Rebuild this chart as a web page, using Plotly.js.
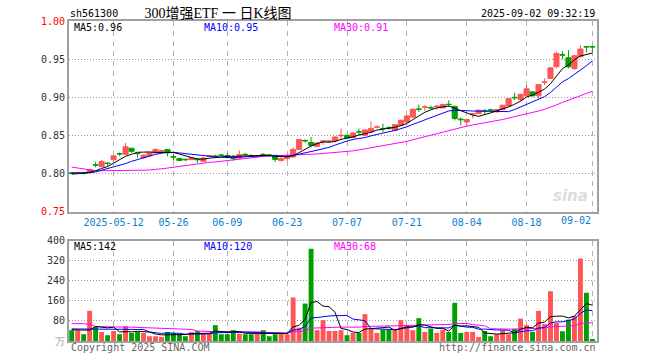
<!DOCTYPE html>
<html><head><meta charset="utf-8">
<script src="https://cdn.plot.ly/plotly-3.0.1.min.js"></script>
<style>html,body{margin:0;padding:0;background:#fff}#chart{width:660px;height:360px}</style>
</head><body><div id="chart"></div>
<script>
const dates = ['2025-04-28','2025-04-29','2025-04-30','2025-05-06','2025-05-07','2025-05-08','2025-05-09','2025-05-12','2025-05-13','2025-05-14','2025-05-15','2025-05-16','2025-05-19','2025-05-20','2025-05-21','2025-05-22','2025-05-23','2025-05-26','2025-05-27','2025-05-28','2025-05-29','2025-05-30','2025-06-03','2025-06-04','2025-06-05','2025-06-06','2025-06-09','2025-06-10','2025-06-11','2025-06-12','2025-06-13','2025-06-16','2025-06-17','2025-06-18','2025-06-19','2025-06-20','2025-06-23','2025-06-24','2025-06-25','2025-06-26','2025-06-27','2025-06-30','2025-07-01','2025-07-02','2025-07-03','2025-07-04','2025-07-07','2025-07-08','2025-07-09','2025-07-10','2025-07-11','2025-07-14','2025-07-15','2025-07-16','2025-07-17','2025-07-18','2025-07-21','2025-07-22','2025-07-23','2025-07-24','2025-07-25','2025-07-28','2025-07-29','2025-07-30','2025-07-31','2025-08-01','2025-08-04','2025-08-05','2025-08-06','2025-08-07','2025-08-08','2025-08-11','2025-08-12','2025-08-13','2025-08-14','2025-08-15','2025-08-18','2025-08-19','2025-08-20','2025-08-21','2025-08-22','2025-08-25','2025-08-26','2025-08-27','2025-08-28','2025-08-29','2025-09-01','2025-09-02'];

const open = [.801,.800,.8008,.801,.8115,.809,.8135,.818,.826,.825,
 .833,.8265,.8205,.823,.827,.8275,.8315,.822,.8195,.8185,
 .818,.8185,.8158,.8225,.8228,.824,.8232,.8205,.8202,.825,
 .8232,.8222,.825,.8242,.8237,.817,.8195,.8215,.8315,.843,
 .8405,.8355,.8415,.842,.843,.8495,.850,.847,.8548,.850,
 .8545,.8605,.859,.860,.8566,.863,.8675,.874,.8845,.8868,
 .8865,.8875,.886,.8908,.888,.8712,.8675,.8778,.8785,.8825,
 .8832,.8807,.8838,.8885,.8998,.897,.9018,.907,.9018,.9198,
 .9246,.940,.9558,.9518,.9377,.953,.9664,.9664];
const high = [.802,.802,.8015,.806,.8155,.818,.8145,.824,.8275,.840,
 .8335,.8265,.8245,.828,.8325,.831,.832,.825,.8205,.8195,
 .8215,.819,.8215,.8235,.8245,.8255,.8265,.8245,.8302,.827,
 .825,.8245,.8265,.8255,.824,.8215,.8245,.834,.845,.845,
 .8475,.8405,.8435,.8435,.8485,.8588,.851,.854,.8588,.858,
 .8684,.863,.8653,.862,.865,.8705,.8765,.885,.8905,.8895,
 .889,.8895,.8915,.896,.889,.8735,.871,.8795,.8835,.8845,
 .885,.8845,.8898,.899,.9057,.9045,.916,.9075,.9167,.9245,
 .939,.960,.9605,.9618,.9555,.9684,.9665,.9665];
const low = [.799,.799,.7985,.800,.808,.808,.8095,.816,.823,.8235,
 .827,.8205,.8195,.822,.826,.8265,.8225,.817,.8165,.816,
 .8175,.8135,.815,.8215,.821,.8225,.8195,.8165,.8195,.8225,
 .821,.821,.8225,.822,.815,.8155,.8165,.8205,.831,.8405,
 .836,.8345,.8375,.8405,.8405,.8456,.846,.8465,.850,.8495,
 .854,.859,.8544,.8575,.856,.8625,.867,.873,.8805,.882,
 .8845,.8835,.8855,.8873,.8695,.863,.861,.872,.878,.877,
 .8815,.880,.883,.888,.8965,.895,.9013,.901,.898,.916,
 .924,.938,.950,.9377,.9355,.9525,.9588,.9588];
const close = [.800,.801,.8003,.805,.811,.8155,.813,.823,.8255,.835,
 .829,.826,.824,.827,.8315,.830,.827,.8215,.817,.818,
 .8205,.818,.8202,.823,.8224,.8237,.8228,.820,.8246,.8246,
 .8228,.8228,.8246,.8237,.8184,.8193,.823,.8315,.8445,.8428,
 .8368,.840,.8425,.8425,.8478,.850,.8465,.853,.8544,.857,
 .8588,.861,.8588,.8597,.864,.8697,.8754,.8842,.8842,.8873,
 .886,.8882,.8904,.8904,.872,.8705,.8706,.8785,.883,.882,
 .883,.8838,.8895,.898,.8993,.9037,.911,.9018,.9165,.920,
 .9386,.9575,.9553,.940,.9544,.9632,.966,.966];
const volume = [43,43,27,120,56,36,23,40,27,59,
 32,36,32,19,19,16,36,32,27,19,
 35,39,32,29,63,27,27,43,29,27,
 27,29,43,19,27,33,27,173,53,149,
 367,43,83,40,40,43,23,32,32,107,
 49,32,45,45,43,83,63,43,91,36,
 49,32,45,36,152,32,36,36,16,40,
 19,27,43,27,49,89,63,36,120,67,
 198,72,39,85,100,328,192,8];

// moving-average values visible before a full window exists
const ma5Head = [.8005,.8005,.8005,.8015];
const ma10Head = [.799,.7995,.800,.801,.802,.804,.806,.8085,.811];
const ma30Head = [.8083,.807,.8055,.804,.8035,.8035,.8035,.8035,.8035,.8037,.804,.804,.8042,.8045,.805,.806,.807,.808,.809,.8105,.812,.813,.8135,.8145,.815,.816,.817,.818,.819];
const vma5Head = [45,45,44,43];
const vma10Head = [48,48,48,48,48,49,49,48,48];
const vma30Head = [69,69,69,66,58,57,56,56,55,55,55,54,54,53,50,49,48,48,47,47,46,40,38,38,37,37,37,37,37];

const tickDates = ['2025-05-12','2025-05-26','2025-06-09','2025-06-23','2025-07-07','2025-07-21','2025-08-04','2025-08-18','2025-09-02'];
const tickLabels = ['2025-05-12','05-26','06-09','06-23','07-07','07-21','08-04','08-18','09-02'];
const priceTicks = [0.75,0.80,0.85,0.90,0.95,1.00];
const volTicks = [0,80,160,240,320,400];

const headerCode = 'sh561300';
const headerTitle = '300增强ETF 一 日K线图';
const headerTime = '2025-09-02 09:32:19';
const priceLegend = ['MA5:0.96','MA10:0.95','MA30:0.91'];
const volLegend = ['MA5:142','MA10:120','MA30:68'];

function movingAvg(vals, n, head){
  return vals.map((v,i)=> i < n-1 ? head[i] : vals.slice(i-n+1,i+1).reduce((a,b)=>a+b,0)/n);
}

const RED='#ff5555', GREEN='#00a000';
const MONO='DejaVu Sans Mono, monospace';
const C_MA = ['#000000','#0000ff','#ff00ff'];

const ma5 = movingAvg(close,5,ma5Head), ma10 = movingAvg(close,10,ma10Head), ma30 = movingAvg(close,30,ma30Head);
const vma5 = movingAvg(volume,5,vma5Head), vma10 = movingAvg(volume,10,vma10Head), vma30 = movingAvg(volume,30,vma30Head);
const volColors = close.map((c,i)=> c>=open[i] ? RED : GREEN);

const traces = [
  {type:'scatter',mode:'lines',x:dates,y:ma30,xaxis:'x',yaxis:'y',line:{color:C_MA[2],width:1},hoverinfo:'skip'},
  {type:'scatter',mode:'lines',x:dates,y:ma10,xaxis:'x',yaxis:'y',line:{color:C_MA[1],width:1},hoverinfo:'skip'},
  {type:'scatter',mode:'lines',x:dates,y:ma5,xaxis:'x',yaxis:'y',line:{color:C_MA[0],width:1},hoverinfo:'skip'},
  {type:'candlestick',x:dates,open:open,high:high,low:low,close:close,xaxis:'x',yaxis:'y',
   increasing:{line:{color:RED,width:1},fillcolor:RED},
   decreasing:{line:{color:GREEN,width:1},fillcolor:GREEN},
   whiskerwidth:0,hoverinfo:'skip'},
  {type:'bar',x:dates,y:volume,xaxis:'x2',yaxis:'y2',marker:{color:volColors,line:{width:0}},width:0.82,hoverinfo:'skip'},
  {type:'scatter',mode:'lines',x:dates,y:vma30,xaxis:'x2',yaxis:'y2',line:{color:C_MA[2],width:1},hoverinfo:'skip'},
  {type:'scatter',mode:'lines',x:dates,y:vma10,xaxis:'x2',yaxis:'y2',line:{color:C_MA[1],width:1},hoverinfo:'skip'},
  {type:'scatter',mode:'lines',x:dates,y:vma5,xaxis:'x2',yaxis:'y2',line:{color:C_MA[0],width:1},hoverinfo:'skip'}
];

const L=69, R=597, T=21, B=341;
const px = x => (x-L)/(R-L);
const py = y => (B-y)/(B-T);
const BORDER='#a0a0a0';
const xRange=[-0.45,87.77];

const priceTickText = priceTicks.map((v,i)=>{
  const s=v.toFixed(2);
  return (i===0||i===priceTicks.length-1) ? '<span style="color:#ff0000">'+s+'</span>' : s;
});
const volTickText = volTicks.map((v,i)=> i===0 ? '<span style="color:#999">万</span>' : String(v));

const xCommon = {type:'category',range:xRange,tickmode:'array',tickvals:tickDates,
  showgrid:true,gridcolor:'#b0b0b0',griddash:'5px,5px',gridwidth:1,
  showline:true,mirror:true,linecolor:BORDER,linewidth:2,ticks:'',zeroline:false,
  automargin:false,fixedrange:true,rangeslider:{visible:false}};

const layout = {
  width:660,height:360,margin:{l:L,r:660-R,t:T,b:360-B},
  paper_bgcolor:'#ffffff',plot_bgcolor:'#ffffff',showlegend:false,
  boxgap:0.15,boxgroupgap:0,
  title:{text:headerTitle,x:218/660,xanchor:'center',y:1-13/360,yanchor:'middle',
    font:{family:'Liberation Serif, Noto Sans CJK SC, serif',size:14,color:'#000'}},
  xaxis:Object.assign({},xCommon,{anchor:'y',domain:[0,1],
    ticktext:tickLabels.map((t,i)=> i===tickLabels.length-1 ? '' : t),
    tickfont:{family:MONO,size:10,color:'#0a7fd0'}}),
  xaxis2:Object.assign({},xCommon,{anchor:'y2',domain:[0,1],ticktext:tickLabels,showticklabels:false}),
  yaxis:{anchor:'x',domain:[(B-211.5)/(B-T),1],range:[0.75,1.0],tickmode:'array',tickvals:priceTicks,ticktext:priceTickText,
    showgrid:true,gridcolor:'#999999',griddash:'1px,2px',gridwidth:1,
    showline:true,mirror:true,linecolor:BORDER,linewidth:2,ticks:'',zeroline:false,automargin:false,fixedrange:true,
    tickfont:{family:MONO,size:10,color:'#333'}},
  yaxis2:{anchor:'x2',domain:[0,(B-240.5)/(B-T)],range:[0,400],tickmode:'array',tickvals:volTicks,ticktext:volTickText,
    showgrid:true,gridcolor:'#999999',griddash:'1px,2px',gridwidth:1,
    showline:true,mirror:true,linecolor:BORDER,linewidth:2,ticks:'',zeroline:false,automargin:false,fixedrange:true,
    tickfont:{family:MONO,size:10,color:'#333'}},
  annotations:[
    {xref:'paper',yref:'paper',x:px(68),y:py(13),xanchor:'left',yanchor:'middle',text:headerCode,showarrow:false,font:{family:MONO,size:10,color:'#000'}},
    {xref:'paper',yref:'paper',x:px(597),y:py(13),xanchor:'right',yanchor:'middle',text:headerTime,showarrow:false,font:{family:MONO,size:10,color:'#000'}},
    {xref:'paper',yref:'paper',x:px(72),y:py(27),xanchor:'left',yanchor:'middle',text:priceLegend[0],showarrow:false,font:{family:MONO,size:10,color:C_MA[0]}},
    {xref:'paper',yref:'paper',x:px(202),y:py(27),xanchor:'left',yanchor:'middle',text:priceLegend[1],showarrow:false,font:{family:MONO,size:10,color:C_MA[1]}},
    {xref:'paper',yref:'paper',x:px(332),y:py(27),xanchor:'left',yanchor:'middle',text:priceLegend[2],showarrow:false,font:{family:MONO,size:10,color:C_MA[2]}},
    {xref:'paper',yref:'paper',x:px(72),y:py(246),xanchor:'left',yanchor:'middle',text:volLegend[0],showarrow:false,font:{family:MONO,size:10,color:C_MA[0]}},
    {xref:'paper',yref:'paper',x:px(202),y:py(246),xanchor:'left',yanchor:'middle',text:volLegend[1],showarrow:false,font:{family:MONO,size:10,color:C_MA[1]}},
    {xref:'paper',yref:'paper',x:px(332),y:py(246),xanchor:'left',yanchor:'middle',text:volLegend[2],showarrow:false,font:{family:MONO,size:10,color:C_MA[2]}},
    {xref:'x',yref:'paper',x:tickDates[tickDates.length-1],y:py(220),xanchor:'right',yanchor:'middle',xshift:1,text:tickLabels[tickLabels.length-1],showarrow:false,font:{family:MONO,size:10,color:'#0a7fd0'}},
    {xref:'paper',yref:'paper',x:px(69),y:py(347),xanchor:'left',yanchor:'middle',text:'Copyright 2025 SINA.COM',showarrow:false,font:{family:MONO,size:10,color:'#666'}},
    {xref:'paper',yref:'paper',x:px(598),y:py(347),xanchor:'right',yanchor:'middle',text:'http://finance.sina.com.cn',showarrow:false,font:{family:MONO,size:10,color:'#666'}},
    {xref:'paper',yref:'paper',x:px(590),y:py(196),xanchor:'right',yanchor:'middle',text:'<b><i>sina</i></b>',showarrow:false,font:{family:'DejaVu Sans, sans-serif',size:15,color:'#dcdcdc'}}
  ]
};

Plotly.newPlot('chart',traces,layout,{displayModeBar:false,staticPlot:true});
</script>
</body></html>
